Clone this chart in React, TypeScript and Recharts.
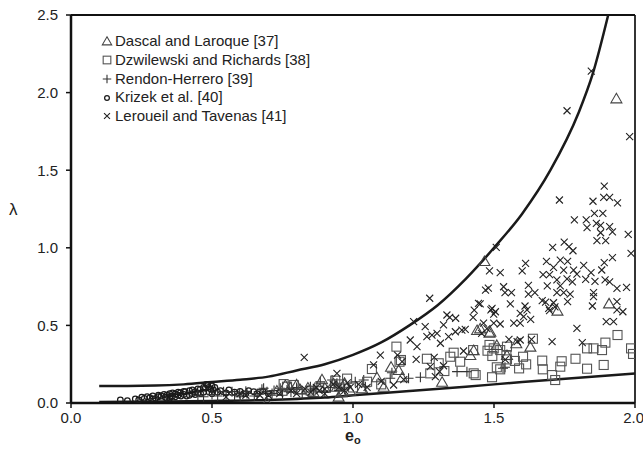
import { ComposedChart, Scatter, Line, XAxis, YAxis, ReferenceLine } from "recharts";

const xTicks = [0, 0.5, 1, 1.5, 2];
const yTicks = [0, 0.5, 1, 1.5, 2, 2.5];

const seriesNames = [
  "Dascal and Laroque [37]",
  "Dzwilewski and Richards [38]",
  "Rendon-Herrero [39]",
  "Krizek et al. [40]",
  "Leroueil and Tavenas [41]",
];

// bounding curves
const upperX = [0.1, 0.2, 0.3, 0.4, 0.5, 0.6, 0.7, 0.8, 0.9, 1.0, 1.1, 1.2, 1.3, 1.4, 1.5, 1.6, 1.7, 1.8, 1.85, 1.905];
const upperY = [0.11, 0.11, 0.112, 0.12, 0.135, 0.15, 0.17, 0.21, 0.25, 0.31, 0.39, 0.5, 0.63, 0.8, 1.0, 1.22, 1.5, 1.87, 2.12, 2.5];
const lowerX = [0.1, 0.3, 0.5, 0.7, 0.9, 1.0, 1.2, 1.4, 1.6, 1.8, 2.0];
const lowerY = [0.006, 0.009, 0.013, 0.02, 0.035, 0.05, 0.077, 0.105, 0.135, 0.163, 0.19];

const dascal: [number, number][] = [
  [0.695, 0.003], [0.73, 0.08], [0.76, 0.116], [0.777, 0.101], [0.8, 0.12], [0.813, 0.088], [0.84, 0.1],
  [0.86, 0.07], [0.89, 0.153], [0.9, 0.1], [0.931, 0.127], [0.943, 0.105], [0.949, 0.041], [0.96, 0.07],
  [0.97, 0.13], [0.99, 0.08], [1.032, 0.095], [1.085, 0.166], [1.109, 0.105], [1.135, 0.234], [1.162, 0.213],
  [1.174, 0.166], [1.316, 0.137], [1.416, 0.309], [1.428, 0.341], [1.44, 0.47], [1.451, 0.481], [1.466, 0.915],
  [1.487, 0.459], [1.484, 0.453], [1.51, 0.374], [1.546, 0.309], [1.579, 0.385], [1.629, 0.363], [1.725, 0.595],
  [1.908, 0.642], [1.934, 1.963],
];

const dzwilewski: [number, number][] = [
  [0.754, 0.122], [0.766, 0.105], [0.79, 0.116], [0.85, 0.08], [0.88, 0.1], [0.937, 0.144], [0.95, 0.12],
  [0.979, 0.157], [1.0, 0.1], [1.05, 0.137], [1.067, 0.219], [1.1, 0.12], [1.154, 0.363], [1.165, 0.266],
  [1.17, 0.277], [1.262, 0.285], [1.274, 0.191], [1.304, 0.256], [1.324, 0.206], [1.345, 0.298], [1.357, 0.324],
  [1.38, 0.266], [1.426, 0.341], [1.428, 0.191], [1.435, 0.18], [1.493, 0.166], [1.484, 0.374], [1.477, 0.337],
  [1.499, 0.352], [1.494, 0.303], [1.522, 0.341], [1.546, 0.363], [1.544, 0.309], [1.546, 0.281], [1.603, 0.298],
  [1.574, 0.271], [1.614, 0.249], [1.51, 0.23], [1.522, 0.217], [1.589, 0.223], [1.638, 0.414], [1.671, 0.273],
  [1.673, 0.217], [1.706, 0.18], [1.717, 0.148], [1.735, 0.234], [1.74, 0.269], [1.789, 0.285], [1.83, 0.221],
  [1.83, 0.352], [1.853, 0.352], [1.883, 0.341], [1.889, 0.245], [1.895, 0.389], [1.938, 0.438], [1.986, 0.352],
  [1.993, 0.316],
];

const rendon: [number, number][] = [
  [0.45, 0.05], [0.47, 0.04], [0.5, 0.055], [0.52, 0.045], [0.541, 0.073], [0.55, 0.055], [0.571, 0.073],
  [0.58, 0.05], [0.598, 0.062], [0.6, 0.04], [0.62, 0.075], [0.624, 0.062], [0.65, 0.045], [0.66, 0.06],
  [0.677, 0.088], [0.683, 0.095], [0.695, 0.073], [0.713, 0.062], [0.72, 0.08], [0.742, 0.095], [0.75, 0.05],
  [0.766, 0.084], [0.78, 0.07], [0.8, 0.1], [0.801, 0.088], [0.82, 0.06], [0.849, 0.105], [0.86, 0.09],
  [0.872, 0.105], [0.884, 0.137], [0.9, 0.07], [0.92, 0.1], [0.926, 0.148], [0.943, 0.127], [0.95, 0.08],
  [0.97, 0.09], [1.008, 0.137], [1.038, 0.148], [1.044, 0.105], [1.132, 0.159], [1.138, 0.195], [1.197, 0.159],
  [1.239, 0.166], [1.369, 0.202], [1.404, 0.202], [1.532, 0.224], [1.539, 0.23],
];

const krizek: [number, number][] = [
  [0.175, 0.02], [0.2, 0.015], [0.228, 0.026], [0.24, 0.02], [0.251, 0.037], [0.26, 0.03], [0.27, 0.041],
  [0.28, 0.035], [0.29, 0.045], [0.29, 0.025], [0.3, 0.03], [0.31, 0.041], [0.31, 0.05], [0.32, 0.045],
  [0.33, 0.055], [0.334, 0.037], [0.34, 0.05], [0.34, 0.03], [0.35, 0.03], [0.35, 0.06], [0.352, 0.041],
  [0.36, 0.045], [0.36, 0.065], [0.37, 0.058], [0.37, 0.04], [0.38, 0.05], [0.38, 0.07], [0.388, 0.066],
  [0.39, 0.045], [0.4, 0.055], [0.4, 0.075], [0.405, 0.073], [0.41, 0.045], [0.42, 0.079], [0.42, 0.05],
  [0.43, 0.06], [0.43, 0.085], [0.44, 0.073], [0.44, 0.055], [0.45, 0.065], [0.45, 0.09], [0.458, 0.088],
  [0.46, 0.06], [0.47, 0.07], [0.47, 0.1], [0.476, 0.095], [0.48, 0.12], [0.485, 0.115], [0.488, 0.101],
  [0.49, 0.07], [0.496, 0.088], [0.5, 0.11], [0.5, 0.06], [0.505, 0.084], [0.51, 0.1], [0.52, 0.07],
  [0.53, 0.08], [0.55, 0.065], [0.56, 0.085], [0.58, 0.07], [0.6, 0.075], [0.62, 0.06], [0.63, 0.08],
  [0.648, 0.073], [0.66, 0.06], [0.68, 0.075], [0.7, 0.06], [0.74, 0.07],
];

const leroueil: [number, number][] = [
  [0.55, 0.04], [0.6, 0.06], [0.62, 0.05], [0.67, 0.05], [0.7, 0.05], [0.74, 0.06], [0.78, 0.08], [0.8, 0.06],
  [0.827, 0.294], [0.83, 0.09], [0.85, 0.07], [0.87, 0.1], [0.88, 0.08], [0.9, 0.09], [0.9, 0.06], [0.93, 0.12],
  [0.943, 0.191], [0.95, 0.1], [0.97, 0.08], [0.98, 0.13], [0.99, 0.1], [1.02, 0.12], [1.05, 0.1], [1.073, 0.245],
  [1.097, 0.309], [1.1, 0.14], [1.144, 0.116], [1.158, 0.309], [1.174, 0.266], [1.18, 0.15], [1.203, 0.406],
  [1.215, 0.524], [1.224, 0.281], [1.227, 0.363], [1.256, 0.492], [1.262, 0.427], [1.272, 0.675], [1.274, 0.234],
  [1.28, 0.438], [1.288, 0.294], [1.292, 0.17], [1.298, 0.449], [1.307, 0.202], [1.31, 0.385], [1.321, 0.503],
  [1.321, 0.24], [1.333, 0.567], [1.339, 0.427], [1.343, 0.552], [1.363, 0.459], [1.364, 0.546], [1.386, 0.47],
  [1.392, 0.335], [1.398, 0.475], [1.426, 0.552], [1.43, 0.599], [1.445, 0.642], [1.451, 0.638], [1.456, 0.449],
  [1.463, 0.514], [1.47, 0.728], [1.475, 0.479], [1.48, 0.74], [1.484, 0.852], [1.489, 0.6], [1.493, 0.61],
  [1.499, 0.514], [1.499, 0.573], [1.505, 0.588], [1.508, 1.003], [1.522, 0.84], [1.522, 0.509], [1.534, 0.749],
  [1.539, 0.711], [1.553, 0.41], [1.558, 0.638], [1.562, 0.711], [1.57, 0.514], [1.582, 0.395], [1.593, 0.578],
  [1.593, 0.514], [1.593, 0.406], [1.6, 0.852], [1.605, 0.556], [1.61, 0.625], [1.612, 0.9], [1.617, 0.6],
  [1.622, 0.758], [1.622, 0.702], [1.63, 0.539], [1.633, 0.41], [1.645, 0.711], [1.671, 0.659], [1.674, 0.827],
  [1.683, 0.65], [1.686, 0.913], [1.689, 0.754], [1.694, 0.61], [1.697, 0.827], [1.697, 0.595], [1.706, 0.395],
  [1.708, 1.003], [1.711, 0.874], [1.711, 0.646], [1.716, 0.62], [1.723, 0.793], [1.723, 0.711], [1.732, 1.308],
  [1.735, 0.921], [1.735, 0.754], [1.747, 0.856], [1.747, 0.711], [1.749, 1.037], [1.759, 1.883], [1.759, 0.8],
  [1.761, 0.913], [1.761, 0.653], [1.766, 1.007], [1.77, 0.702], [1.778, 0.78], [1.78, 0.981], [1.782, 0.856],
  [1.785, 1.18], [1.794, 0.831], [1.794, 0.481], [1.813, 0.389], [1.818, 0.887], [1.825, 0.797], [1.827, 1.18],
  [1.83, 1.13], [1.845, 2.139], [1.844, 0.84], [1.849, 0.625], [1.851, 1.3], [1.853, 0.711], [1.853, 0.685],
  [1.856, 1.222], [1.858, 0.784], [1.863, 1.158], [1.865, 1.046], [1.878, 1.145], [1.878, 1.097], [1.882, 0.857],
  [1.886, 1.222], [1.889, 1.325], [1.891, 1.398], [1.891, 0.904], [1.894, 0.793], [1.896, 1.046], [1.898, 0.524],
  [1.91, 1.325], [1.91, 1.136], [1.91, 0.78], [1.92, 1.102], [1.92, 0.936], [1.924, 0.524], [1.936, 0.739],
  [1.936, 0.653], [1.936, 0.6], [1.938, 1.29], [1.957, 0.588], [1.97, 0.745], [1.976, 1.087], [1.981, 1.716],
  [1.986, 0.964], [1.54, 0.28],
];

const pts = (arr: [number, number][]) => arr.map(([x, y]) => ({ x, y }));
const curve = (xs: number[], ys: number[]) => xs.map((x, i) => ({ x, y: ys[i] }));

const font = "'Liberation Sans', Arial, sans-serif";

const Triangle = ({ cx, cy, s = 1 }: any) => (
  <path
    d={`M${cx},${cy - 5 * s} L${cx + 5.5 * s},${cy + 4.5 * s} L${cx - 5.5 * s},${cy + 4.5 * s} Z`}
    fill="none"
    stroke="#444"
    strokeWidth={1.1}
  />
);
const Square = ({ cx, cy, s = 1 }: any) => (
  <rect x={cx - 4.5 * s} y={cy - 4.5 * s} width={9 * s} height={9 * s} fill="none" stroke="#555" strokeWidth={1.1} />
);
const Plus = ({ cx, cy, s = 1 }: any) => (
  <path d={`M${cx - 5 * s},${cy} H${cx + 5 * s} M${cx},${cy - 5 * s} V${cy + 5 * s}`} stroke="#333" strokeWidth={1.1} fill="none" />
);
const Ring = ({ cx, cy, s = 1 }: any) => <circle cx={cx} cy={cy} r={2.8 * s} fill="none" stroke="#1a1a1a" strokeWidth={1.25} />;
const Cross = ({ cx, cy, s = 1 }: any) => (
  <path
    d={`M${cx - 3.5 * s},${cy - 3.5 * s} L${cx + 3.5 * s},${cy + 3.5 * s} M${cx + 3.5 * s},${cy - 3.5 * s} L${cx - 3.5 * s},${cy + 3.5 * s}`}
    stroke="#222"
    strokeWidth={1.1}
    fill="none"
  />
);

const shapes = [Triangle, Square, Plus, Ring, Cross];

export default function App() {
  const tickStyle = { fill: "#222", fontSize: 15, fontFamily: font };
  return (
    <div style={{ position: "absolute", left: 0, top: 0, width: 643, height: 452, background: "#fff" }}>
      <ComposedChart width={643} height={452} margin={{ top: 15, right: 8, bottom: 19, left: 0 }}>
        <XAxis
          type="number"
          dataKey="x"
          domain={[0, 2]}
          ticks={xTicks}
          tickFormatter={(v: number) => v.toFixed(1)}
          height={30}
          allowDataOverflow
          axisLine={{ stroke: "#111", strokeWidth: 2.5 }}
          tickLine={{ stroke: "#111", strokeWidth: 1.5 }}
          tickSize={5}
          tickMargin={4}
          tick={tickStyle}
        />
        <YAxis
          type="number"
          dataKey="y"
          domain={[0, 2.5]}
          ticks={yTicks}
          tickFormatter={(v: number) => v.toFixed(1)}
          width={71}
          allowDataOverflow
          axisLine={{ stroke: "#111", strokeWidth: 2.5 }}
          tickLine={{ stroke: "#111", strokeWidth: 1.5 }}
          tickSize={5}
          tickMargin={8}
          tick={tickStyle}
        />
        <ReferenceLine y={2.5} stroke="#111" strokeWidth={2} />
        <ReferenceLine x={2} stroke="#111" strokeWidth={1.7} />
        <Scatter data={pts(krizek)} shape={Ring} isAnimationActive={false} />
        <Scatter data={pts(rendon)} shape={Plus} isAnimationActive={false} />
        <Scatter data={pts(dzwilewski)} shape={Square} isAnimationActive={false} />
        <Scatter data={pts(dascal)} shape={Triangle} isAnimationActive={false} />
        <Scatter data={pts(leroueil)} shape={Cross} isAnimationActive={false} />
        <Line data={curve(upperX, upperY)} dataKey="y" type="monotone" stroke="#1a1a1a" strokeWidth={2.5} dot={false} activeDot={false} isAnimationActive={false} />
        <Line data={curve(lowerX, lowerY)} dataKey="y" type="monotone" stroke="#1a1a1a" strokeWidth={2.5} dot={false} activeDot={false} isAnimationActive={false} />
      </ComposedChart>

      <div style={{ position: "absolute", left: 99, top: 32, fontFamily: font, fontSize: 15, color: "#222" }}>
        {seriesNames.map((name, i) => {
          const S = shapes[i];
          return (
            <div key={name} style={{ height: 18.75, lineHeight: "18.75px", display: "flex", alignItems: "center", whiteSpace: "nowrap" }}>
              <svg width={16} height={14}>
                <S cx={8} cy={7} s={0.85} />
              </svg>
              <span>{name}</span>
            </div>
          );
        })}
      </div>

      <div style={{ position: "absolute", left: 9, top: 200, fontFamily: font, fontSize: 17, color: "#222" }}>λ</div>
      <div style={{ position: "absolute", left: 345, top: 429, fontFamily: font, fontSize: 16, fontWeight: "bold", color: "#222", lineHeight: "14px" }}>
        e<sub style={{ fontSize: 11, verticalAlign: "-3px", lineHeight: "11px" }}>o</sub>
      </div>
    </div>
  );
}
